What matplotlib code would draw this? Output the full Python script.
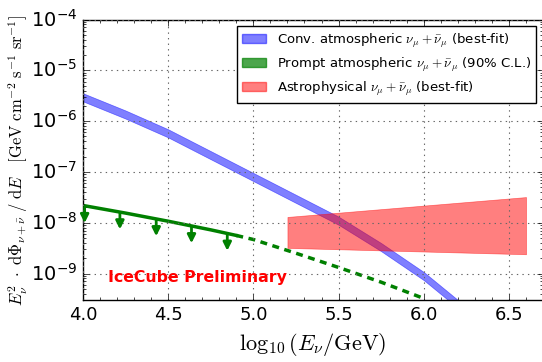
"""
IceCube numu flux plot: conventional / prompt atmospheric and astrophysical
"""

import matplotlib
matplotlib.use("Agg")
import matplotlib.pyplot as plt
import matplotlib.patches as mpatches
from matplotlib.ticker import MultipleLocator
import numpy as np

# conventional atmospheric (best fit), log10 E vs log10 E^2 dPhi/dE
conv_logE = [4.0, 4.25, 4.5, 4.75, 5.0, 5.25, 5.5, 5.75, 6.0, 6.2]
conv_logF = [-5.53, -5.87, -6.24, -6.67, -7.10, -7.53, -7.96, -8.48, -9.05, -9.60]

# prompt atmospheric 90% upper limit (solid part, then dashed extrapolation)
prompt_logE = [4.0, 4.25, 4.5, 4.75, 4.9]
prompt_logF = [-7.66, -7.81, -7.97, -8.14, -8.25]
prompt_ext_logE = [4.9, 5.0, 5.25, 5.5, 5.75, 6.0]
prompt_ext_logF = [-8.25, -8.33, -8.60, -8.88, -9.17, -9.49]
arrow_logE = [4.01, 4.217, 4.43, 4.637, 4.847]

# astrophysical best-fit band
astro_logE = [5.2, 6.6]
astro_lo = [3.2e-9, 2.4e-9]
astro_hi = [1.3e-8, 3.2e-8]

plt.style.use("classic")
plt.rcParams["mathtext.fontset"] = "cm"
plt.rcParams["axes.unicode_minus"] = False

fig = plt.figure(figsize=(5.42, 3.62), dpi=100, facecolor="white")
ax = fig.add_axes([0.153, 0.171, 0.849, 0.775])

conv = 10 ** np.array(conv_logF)
band = 10 ** 0.08
ax.fill_between(conv_logE, conv / band, conv * band, color="blue", alpha=0.5, lw=0.5)

ax.plot(prompt_logE, 10 ** np.array(prompt_logF), color="green", lw=2.5)
ax.plot(prompt_ext_logE, 10 ** np.array(prompt_ext_logF), color="green", lw=2.5, ls="--",
        dashes=(5, 4))
prompt_at = np.interp(arrow_logE, prompt_logE, prompt_logF)
for x, lf in zip(arrow_logE, prompt_at):
    y0 = 10 ** (lf - 0.02)
    ax.annotate("", xy=(x, y0 * 10 ** -0.32), xytext=(x, y0),
                arrowprops=dict(arrowstyle="-|>", color="green", lw=2,
                                mutation_scale=12, shrinkA=0, shrinkB=0))

ax.fill_between(astro_logE, astro_lo, astro_hi, color="red", alpha=0.5, lw=0.5)

ax.text(4.15, 10 ** -9.08, "IceCube Preliminary", color="red", fontsize=11.3,
        fontweight="bold", va="center")

ax.set_yscale("log")
ax.set_xlim(4.0, 6.7)
ax.set_ylim(3e-10, 1e-4)
ax.xaxis.set_major_locator(MultipleLocator(0.5))
ax.xaxis.set_minor_locator(MultipleLocator(0.1))
ax.tick_params(axis="x", labelsize=13)
ax.tick_params(axis="y", labelsize=14)
ax.grid(True, which="major", ls=":", color="0.4", lw=0.8)

ax.set_xlabel(r"$\log_{10}(E_{\nu}/\mathrm{GeV})$", fontsize=16)
ax.set_ylabel(r"$E_{\nu}^{2}\ \cdot\ \mathrm{d}\Phi_{\nu+\bar{\nu}}\ /\ \mathrm{d}E\quad"
              r"[\mathrm{GeV\ cm^{-2}\ s^{-1}\ sr^{-1}}]$", fontsize=12, labelpad=1)

handles = [
    mpatches.Patch(facecolor="blue", edgecolor="blue", alpha=0.5,
                   label=r"Conv. atmospheric $\nu_{\mu}+\bar{\nu}_{\mu}$ (best-fit)"),
    mpatches.Patch(facecolor="green", edgecolor="green", alpha=0.7,
                   label=r"Prompt atmospheric $\nu_{\mu}+\bar{\nu}_{\mu}$ (90% C.L.)"),
    mpatches.Patch(facecolor="red", edgecolor="red", alpha=0.5,
                   label=r"Astrophysical $\nu_{\mu}+\bar{\nu}_{\mu}$ (best-fit)"),
]
ax.legend(handles=handles, loc="upper right", fontsize=9.5, frameon=True,
          fancybox=False, handlelength=1.8, handletextpad=0.8, labelspacing=0.45,
          borderpad=0.4, borderaxespad=0.5)

plt.savefig("out.png", dpi=100, facecolor="white")
plt.close(fig)
